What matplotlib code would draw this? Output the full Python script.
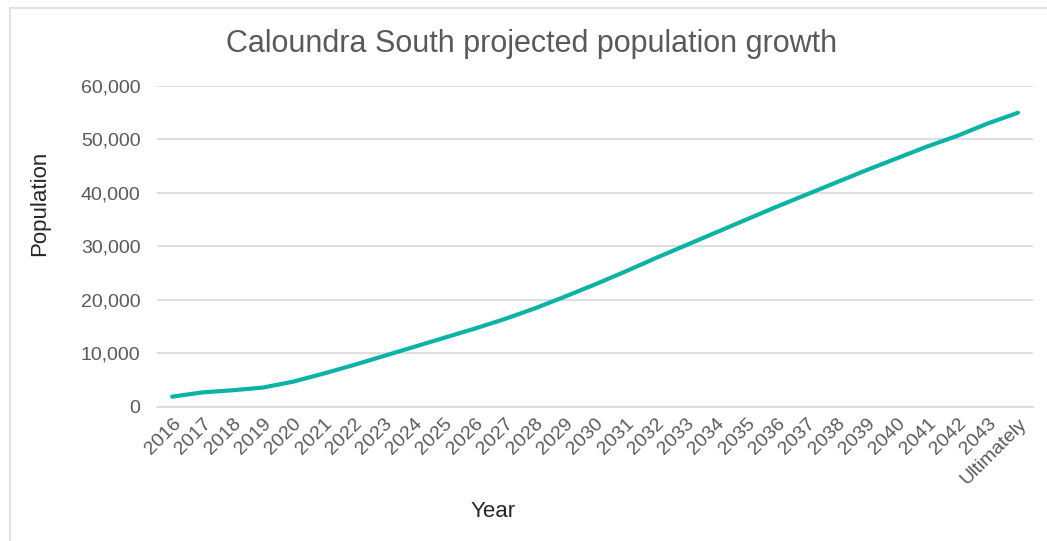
import matplotlib.pyplot as plt
from matplotlib.lines import Line2D
from matplotlib.ticker import FuncFormatter

plt.rcParams['font.family'] = ['Liberation Sans', 'DejaVu Sans']

# categories and projected population
years = ['2016', '2017', '2018', '2019', '2020', '2021', '2022', '2023', '2024', '2025',
         '2026', '2027', '2028', '2029', '2030', '2031', '2032', '2033', '2034', '2035',
         '2036', '2037', '2038', '2039', '2040', '2041', '2042', '2043', 'Ultimately']
population = [1900, 2700, 3100, 3600, 4700, 6200, 7800, 9500, 11200, 12900,
              14600, 16400, 18400, 20600, 22900, 25300, 27800, 30200, 32600, 35000,
              37400, 39700, 42000, 44300, 46500, 48700, 50700, 53000, 55000]
y_ticks = [0, 10000, 20000, 30000, 40000, 50000, 60000]

fig = plt.figure(figsize=(10.47, 5.41), dpi=100)
ax = fig.add_axes([0.15, 0.248, 0.8367, 0.593])

x = list(range(len(years)))
ax.plot(x, population, color='#0AB3A5', linewidth=3.0,
        solid_capstyle='round', solid_joinstyle='round')

ax.set_xlim(-0.5, len(years) - 0.5)
ax.set_ylim(0, 60000)
ax.set_yticks(y_ticks)
ax.yaxis.set_major_formatter(FuncFormatter(lambda v, p: f'{int(v):,}'))
ax.set_xticks(x)
ax.set_xticklabels(years, rotation=45, ha='right', rotation_mode='anchor')

ax.grid(axis='y', color='#D9D9D9', linewidth=1.2)
ax.set_axisbelow(True)
for s in ['top', 'right', 'left']:
    ax.spines[s].set_visible(False)
ax.spines['bottom'].set_color('#D9D9D9')
ax.spines['bottom'].set_linewidth(1.2)
ax.tick_params(axis='both', length=0, labelsize=14, labelcolor='#595959')
ax.tick_params(axis='y', pad=12)
ax.tick_params(axis='x', pad=6)

ax.set_xlabel('Year', fontsize=16, color='#262626')
ax.set_ylabel('Population', fontsize=16, color='#262626')
ax.xaxis.set_label_coords(0.3836, -0.295)
ax.yaxis.set_label_coords(-0.122, 0.635)
fig.text(0.508, 0.919, 'Caloundra South projected population growth',
         ha='center', va='center', fontsize=22, color='#595959')

# chart frame (top and left edges visible)
fig.add_artist(Line2D([10 / 1047, 1], [1 - 8 / 541, 1 - 8 / 541], transform=fig.transFigure,
                      color='#E3E3E3', linewidth=1.5))
fig.add_artist(Line2D([10 / 1047, 10 / 1047], [0, 1 - 8 / 541], transform=fig.transFigure,
                      color='#E3E3E3', linewidth=1.5))

fig.savefig('out.png', dpi=100)
